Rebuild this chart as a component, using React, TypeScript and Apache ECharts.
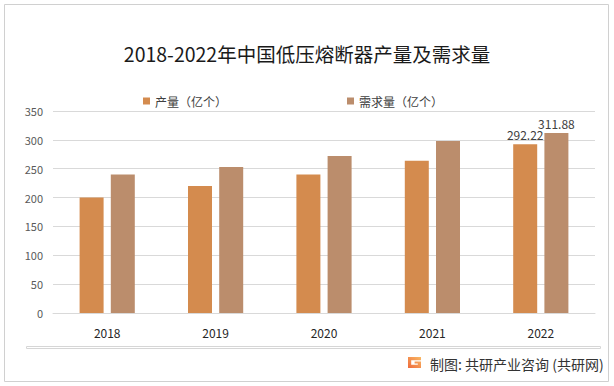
import React, { useEffect, useRef } from "react";
import * as echarts from "echarts";

const categories = ["2018", "2019", "2020", "2021", "2022"];
const production = [200, 220, 240, 264, 292.22];
const demand = [240, 253, 272, 298, 311.88];
const labeledYear = "2022";
const seriesNames = ["产量（亿个）", "需求量（亿个）"];
const titleText = "2018-2022年中国低压熔断器产量及需求量";
const sourceText = "制图: 共研产业咨询 (共研网)";

const FONT = "'Noto Sans CJK SC', 'Noto Sans', sans-serif";

echarts.graphic.registerShape(
  "glogo",
  (echarts.graphic as any).extendPath(
    "M0,0 H13 V3.2 H3.2 V7.8 H9.8 V6.6 H6.6 V4.4 H13 V11 H0 Z",
    {}
  )
);

export default function App() {
  const ref = useRef<HTMLDivElement>(null);
  useEffect(() => {
    if (!ref.current) return;
    const chart = echarts.init(ref.current, null, { renderer: "svg" });
    const lastIdx = categories.indexOf(labeledYear);
    const mk = (vals: number[]) =>
      vals.map((v, i) => ({
        value: v,
        label: {
          show: i === lastIdx,
          position: "top",
          distance: 4,
          color: "#404040",
          fontSize: 12,
          fontFamily: FONT,
          formatter: (p: any) => Number(p.value).toFixed(2),
        },
      }));
    chart.setOption({
      animation: false,
      backgroundColor: "#ffffff",
      textStyle: { fontFamily: FONT },
      title: {
        text: titleText,
        left: "center",
        top: 39,
        textStyle: { fontSize: 19.5, fontWeight: "normal", color: "#1a1a1a", fontFamily: FONT },
      },
      legend: {
        top: 90,
        left: 138,
        itemWidth: 7,
        itemHeight: 7,
        itemGap: 120,
        icon: "rect",
        textStyle: { fontSize: 12, color: "#404040", fontFamily: FONT },
        data: seriesNames,
      },
      grid: { left: 53, right: 19, top: 111, bottom: 73, containLabel: false },
      xAxis: {
        type: "category",
        data: categories,
        axisLine: { lineStyle: { color: "#d9d9d9" } },
        axisTick: { show: false },
        axisLabel: { color: "#262626", fontSize: 12, margin: 13, fontFamily: FONT },
      },
      yAxis: {
        type: "value",
        min: 0,
        max: 350,
        interval: 50,
        axisLine: { show: false },
        axisTick: { show: false },
        splitLine: { lineStyle: { color: "#d9d9d9" } },
        axisLabel: { color: "#595959", fontSize: 11, margin: 10, fontFamily: FONT },
      },
      series: [
        {
          name: seriesNames[0],
          type: "bar",
          barWidth: 24,
          barGap: "30%",
          itemStyle: { color: "#d48b4e" },
          data: mk(production),
        },
        {
          name: seriesNames[1],
          type: "bar",
          barWidth: 24,
          itemStyle: { color: "#bb8d6c" },
          data: mk(demand),
        },
      ],
      graphic: {
        elements: [
          {
            type: "rect",
            left: 4,
            top: 4,
            shape: { x: 0, y: 0, width: 604, height: 377 },
            style: { fill: "rgba(0,0,0,0)", stroke: "#d0d0d0", lineWidth: 1 },
            silent: true,
            z: 100,
          },
          {
            type: "rect",
            left: 26,
            top: 346,
            shape: { x: 0, y: 0, width: 574, height: 2 },
            style: { fill: "#ffffff", stroke: "#d6d6d6", lineWidth: 1 },
            silent: true,
            z: 100,
          },
          {
            type: "glogo",
            x: 408,
            y: 357,
            style: {
              fill: new echarts.graphic.LinearGradient(0, 1, 1, 0, [
                { offset: 0, color: "#ef6a3c" },
                { offset: 1, color: "#f9b964" },
              ]),
            },
            silent: true,
          },
          {
            type: "text",
            x: 430,
            y: 364,
            style: {
              text: sourceText,
              fontSize: 14,
              fill: "#333333",
              fontFamily: FONT,
              verticalAlign: "middle",
            },
            silent: true,
          },
        ],
      },
    });
    return () => chart.dispose();
  }, []);
  return (
    <div
      ref={ref}
      style={{ width: 614, height: 386, position: "absolute", left: 0, top: 0 }}
    />
  );
}
